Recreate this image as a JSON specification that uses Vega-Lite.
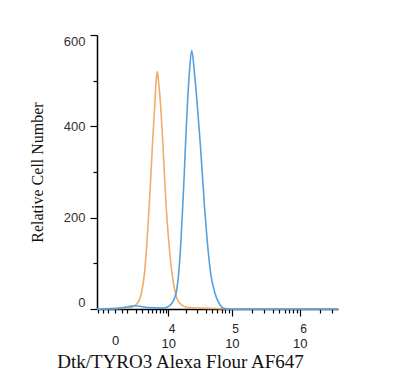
{
  "$schema": "https://vega.github.io/schema/vega-lite/v6.json",
  "autosize": "none",
  "width": 241,
  "height": 274,
  "padding": {"left": 97, "top": 35, "right": 62, "bottom": 69},
  "background": "white",
  "config": {"view": {"stroke": null}},
  "data": {"values": [
    {"series": "Isotype control", "fl": -1673, "count": 0},
    {"series": "Isotype control", "fl": 362, "count": 1},
    {"series": "Isotype control", "fl": 796, "count": 2},
    {"series": "Isotype control", "fl": 1502, "count": 4},
    {"series": "Isotype control", "fl": 2228, "count": 12},
    {"series": "Isotype control", "fl": 2850, "count": 34},
    {"series": "Isotype control", "fl": 3380, "count": 78},
    {"series": "Isotype control", "fl": 3880, "count": 151},
    {"series": "Isotype control", "fl": 4300, "count": 224},
    {"series": "Isotype control", "fl": 4700, "count": 297},
    {"series": "Isotype control", "fl": 5100, "count": 370},
    {"series": "Isotype control", "fl": 5594, "count": 443},
    {"series": "Isotype control", "fl": 5934, "count": 495},
    {"series": "Isotype control", "fl": 6290, "count": 520},
    {"series": "Isotype control", "fl": 6690, "count": 495},
    {"series": "Isotype control", "fl": 7296, "count": 443},
    {"series": "Isotype control", "fl": 7942, "count": 370},
    {"series": "Isotype control", "fl": 8520, "count": 297},
    {"series": "Isotype control", "fl": 9180, "count": 224},
    {"series": "Isotype control", "fl": 10150, "count": 151},
    {"series": "Isotype control", "fl": 11600, "count": 78},
    {"series": "Isotype control", "fl": 13300, "count": 34},
    {"series": "Isotype control", "fl": 15794, "count": 12},
    {"series": "Isotype control", "fl": 21540, "count": 3},
    {"series": "Isotype control", "fl": 32880, "count": 2},
    {"series": "Isotype control", "fl": 55800, "count": 1},
    {"series": "Isotype control", "fl": 93800, "count": 0},
    {"series": "Isotype control", "fl": 3630000, "count": 0},
    {"series": "Dtk/TYRO3", "fl": -1673, "count": 0},
    {"series": "Dtk/TYRO3", "fl": 362, "count": 2},
    {"series": "Dtk/TYRO3", "fl": 1091, "count": 5},
    {"series": "Dtk/TYRO3", "fl": 1914, "count": 7},
    {"series": "Dtk/TYRO3", "fl": 2952, "count": 5},
    {"series": "Dtk/TYRO3", "fl": 4484, "count": 3},
    {"series": "Dtk/TYRO3", "fl": 8044, "count": 2},
    {"series": "Dtk/TYRO3", "fl": 9882, "count": 5},
    {"series": "Dtk/TYRO3", "fl": 11460, "count": 12},
    {"series": "Dtk/TYRO3", "fl": 13560, "count": 34},
    {"series": "Dtk/TYRO3", "fl": 15036, "count": 78},
    {"series": "Dtk/TYRO3", "fl": 16408, "count": 151},
    {"series": "Dtk/TYRO3", "fl": 17486, "count": 224},
    {"series": "Dtk/TYRO3", "fl": 18560, "count": 297},
    {"series": "Dtk/TYRO3", "fl": 19560, "count": 370},
    {"series": "Dtk/TYRO3", "fl": 20760, "count": 443},
    {"series": "Dtk/TYRO3", "fl": 22340, "count": 516},
    {"series": "Dtk/TYRO3", "fl": 24380, "count": 566},
    {"series": "Dtk/TYRO3", "fl": 27000, "count": 516},
    {"series": "Dtk/TYRO3", "fl": 30000, "count": 443},
    {"series": "Dtk/TYRO3", "fl": 32880, "count": 370},
    {"series": "Dtk/TYRO3", "fl": 35700, "count": 297},
    {"series": "Dtk/TYRO3", "fl": 38600, "count": 224},
    {"series": "Dtk/TYRO3", "fl": 42400, "count": 151},
    {"series": "Dtk/TYRO3", "fl": 48000, "count": 78},
    {"series": "Dtk/TYRO3", "fl": 55800, "count": 34},
    {"series": "Dtk/TYRO3", "fl": 64800, "count": 12},
    {"series": "Dtk/TYRO3", "fl": 73680, "count": 2},
    {"series": "Dtk/TYRO3", "fl": 93800, "count": 0},
    {"series": "Dtk/TYRO3", "fl": 3630000, "count": 0}
  ]},
  "resolve": {"axis": {"x": "independent"}},
  "layer": [
    {
      "transform": [{"filter": "datum.series == 'Isotype control'"}],
      "mark": {"type": "line", "interpolate": "monotone", "strokeWidth": 1.6},
      "encoding": {
        "x": {
          "field": "fl", "type": "quantitative",
          "scale": {"type": "symlog", "constant": 2000, "domain": [-1673, 3630000], "nice": false, "zero": false},
          "axis": {
            "orient": "bottom",
            "title": "Dtk/TYRO3 Alexa Flour AF647",
            "titleFont": "Liberation Serif", "titleFontSize": 19, "titleFontWeight": "normal", "titleColor": "#111",
            "titleX": 83, "titleY": 58, "titleBaseline": "alphabetic", "titleAnchor": "middle",
            "values": [-1500, -1000, -500, 0, 500, 1000, 2000, 3000, 4000, 5000, 6000, 7000, 8000, 9000, 10000, 20000, 30000, 40000, 50000, 60000, 70000, 80000, 90000, 100000, 200000, 300000, 400000, 500000, 600000, 700000, 800000, 900000, 1000000, 2000000, 3000000],
            "labelExpr": "datum.value == 0 ? '0' : (datum.value == 10000 || datum.value == 100000 || datum.value == 1000000) ? '10' : ''",
            "labelFont": "Liberation Sans", "labelFontSize": 13, "labelColor": "#222",
            "labelPadding": 21, "labelOverlap": false, "labelFlush": false,
            "tickSize": {"condition": {"test": "datum.value == 10000 || datum.value == 100000 || datum.value == 1000000", "value": 7}, "value": 4},
            "tickColor": "#000", "tickWidth": 1.2,
            "domainColor": "#000", "domainWidth": 1.5, "grid": false
          }
        },
        "y": {
          "field": "count", "type": "quantitative",
          "scale": {"domain": [0, 600], "nice": false},
          "axis": {
            "title": "Relative Cell Number",
            "titleFont": "Liberation Serif", "titleFontSize": 16, "titleFontWeight": "normal", "titleColor": "#111",
            "titlePadding": 18,
            "values": [0, 50, 100, 150, 200, 250, 300, 350, 400, 450, 500, 550, 600],
            "labelExpr": "datum.value % 200 == 0 ? datum.label : ''",
            "labelFont": "Liberation Sans", "labelFontSize": 13, "labelColor": "#333",
            "labelPadding": 5, "labelOverlap": false, "labelFlush": true,
            "tickSize": {"condition": {"test": "datum.value % 200 == 0", "value": 7}, "value": 4},
            "tickColor": "#000", "tickWidth": 1.2,
            "domainColor": "#000", "domainWidth": 1.5, "grid": false
          }
        },
        "color": {
          "field": "series", "type": "nominal",
          "scale": {"domain": ["Isotype control", "Dtk/TYRO3"], "range": ["#f0ac6a", "#55a0e2"]},
          "legend": null
        }
      }
    },
    {
      "transform": [{"filter": "datum.series == 'Dtk/TYRO3'"}],
      "mark": {"type": "line", "interpolate": "monotone", "strokeWidth": 1.6},
      "encoding": {
        "x": {
          "field": "fl", "type": "quantitative",
          "axis": {
            "orient": "bottom",
            "title": null,
            "values": [10000, 100000, 1000000],
            "labelExpr": "datum.value == 10000 ? '4' : datum.value == 100000 ? '5' : '6'",
            "labelFont": "Liberation Sans", "labelFontSize": 12, "labelColor": "#222",
            "labelPadding": 14, "labelAlign": "left", "labelDx": 7, "labelOverlap": false, "labelFlush": false,
            "ticks": false, "tickSize": 0, "domain": false, "grid": false
          }
        },
        "y": {"field": "count", "type": "quantitative"},
        "color": {"field": "series", "type": "nominal", "legend": null}
      }
    }
  ]
}
